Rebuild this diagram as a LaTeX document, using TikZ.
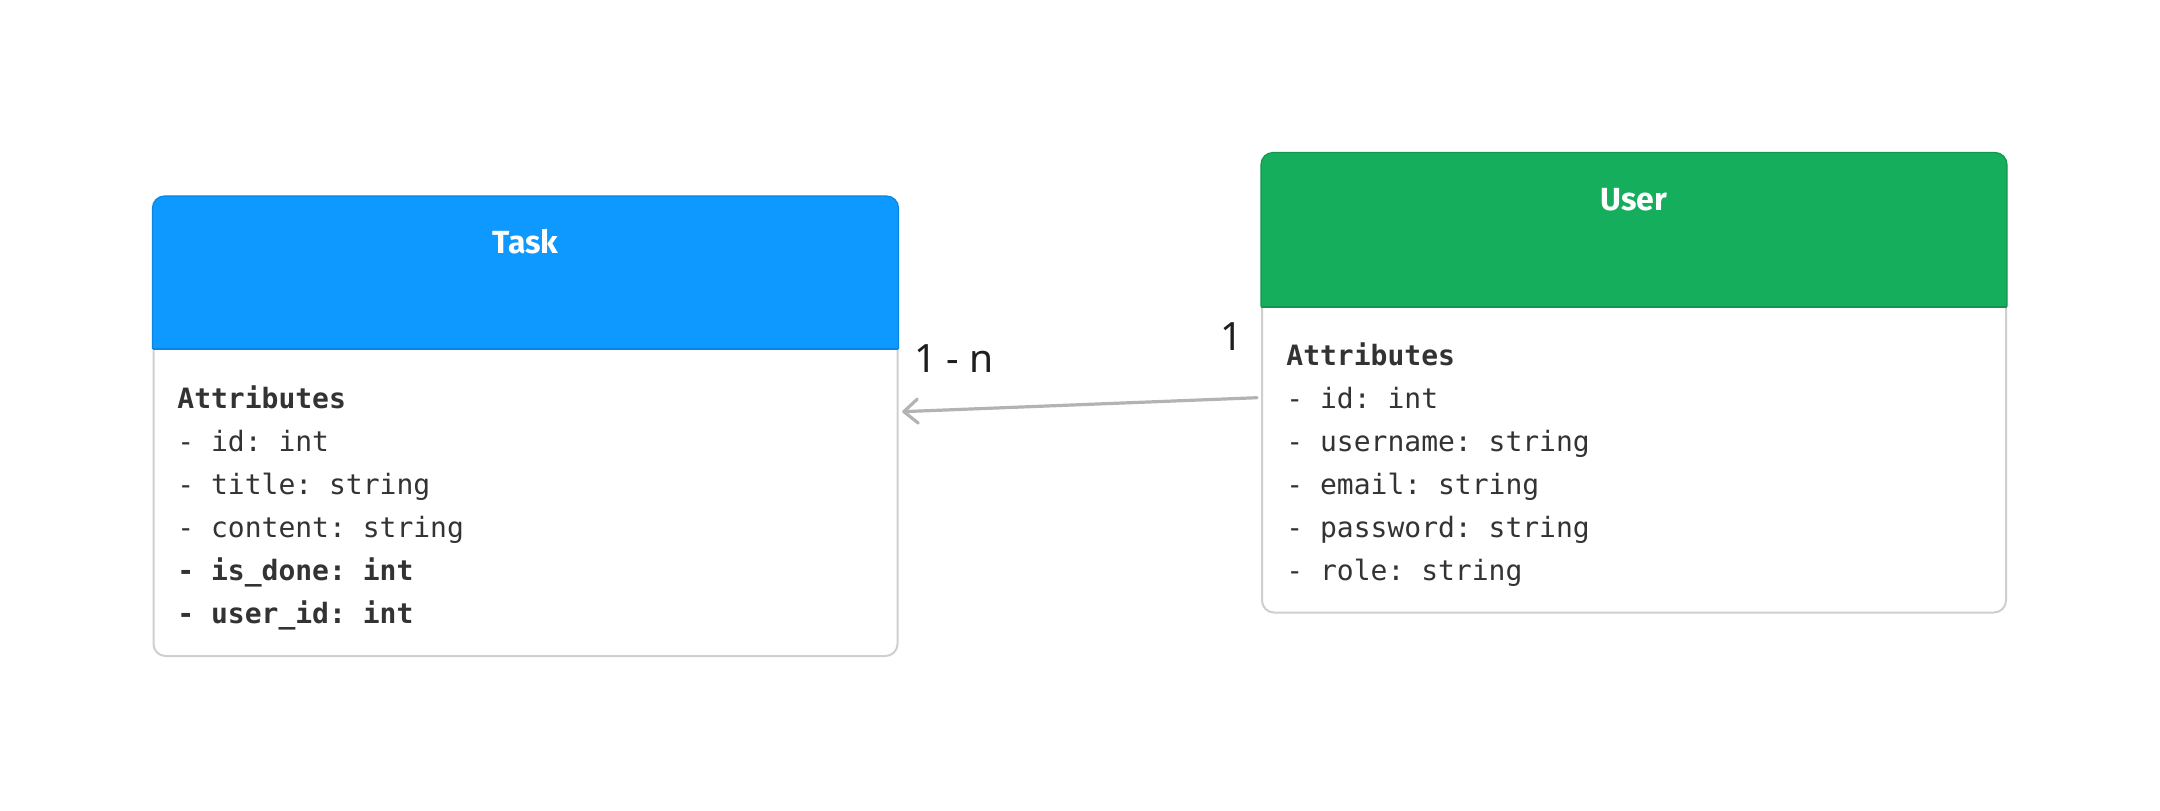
\documentclass[tikz,border=0pt]{standalone}
\usepackage{fontspec}
\setmainfont{Noto Sans}
\setmonofont{DejaVu Sans Mono}
\newfontfamily\titlefont{Fira Sans}
\usetikzlibrary{arrows.meta}
\definecolor{hblue}{HTML}{0D99FF}
\definecolor{hbluedark}{HTML}{0A86E0}
\definecolor{hgreen}{HTML}{14AE5C}
\definecolor{hgreendark}{HTML}{10964E}
\definecolor{bordergray}{HTML}{CFCFCF}
\definecolor{bodytxt}{HTML}{333333}
\definecolor{labeltxt}{HTML}{1E1E1E}
\definecolor{conngray}{HTML}{B3B3B3}
\tikzset{
  classbox/.style={draw=bordergray, line width=1pt, fill=white, rounded corners=6pt,
    minimum width=372pt, minimum height=229.5pt, inner sep=0pt},
  classtitle/.style={font=\titlefont\bfseries\fontsize{16}{18}\selectfont, text=white, inner sep=0pt},
  attrline/.style={font=\ttfamily\fontsize{14}{16}\selectfont, text=bodytxt, inner sep=0pt, anchor=base west},
  multlabel/.style={font=\fontsize{19.5}{22}\selectfont, text=labeltxt, inner sep=0pt, anchor=base west},
  conn/.style={draw=conngray, line width=1.6pt, line cap=round,
    -{Straight Barb[length=7pt,width=12pt,line width=1.6pt,round]}},
}
\begin{document}
\begin{tikzpicture}[x=0.5pt,y=-0.5pt]
\fill[white] (0,0) rectangle (2160,810);
\useasboundingbox (0,0) rectangle (2160,810);

% class boxes
\node[classbox] (task) at (525.5,426.5) {};
\node[classbox] (user) at (1634,383) {};

% headers
\begin{scope}
  \clip[rounded corners=6pt] (task.south west) rectangle (task.north east);
  \fill[hblue] (task.north west) rectangle ([yshift=-76.5pt]task.north east);
  \draw[hbluedark, line width=1pt] ([yshift=-76.5pt]task.north west) -- ([yshift=-76.5pt]task.north east);
\end{scope}
\draw[hbluedark, line width=0.6pt, rounded corners=6pt]
  ([yshift=-76.5pt]task.north west) -- (task.north west) -- (task.north east) -- ([yshift=-76.5pt]task.north east);

\begin{scope}
  \clip[rounded corners=6pt] (user.south west) rectangle (user.north east);
  \fill[hgreen] (user.north west) rectangle ([yshift=-77pt]user.north east);
  \draw[hgreendark, line width=1pt] ([yshift=-77pt]user.north west) -- ([yshift=-77pt]user.north east);
\end{scope}
\draw[hgreendark, line width=0.6pt, rounded corners=6pt]
  ([yshift=-77pt]user.north west) -- (user.north west) -- (user.north east) -- ([yshift=-77pt]user.north east);

% titles
\node[classtitle] (tasktitle) at ([yshift=-22.75pt]task.north) {Task};
\node[classtitle] (usertitle) at ([yshift=-23.5pt]user.north) {User};

% attributes of Task
\foreach \txt [count=\i] in {{\bfseries Attributes},- id: int,- title: string,- content: string,{\bfseries - is\_done: int},{\bfseries - user\_id: int}}
  \node[attrline] (tattr\i) at (177,{408+43*(\i-1)}) {\txt};

% attributes of User
\foreach \txt [count=\i] in {{\bfseries Attributes},- id: int,- username: string,- email: string,- password: string,- role: string}
  \node[attrline] (uattr\i) at (1286,{365+43*(\i-1)}) {\txt};

% connector
\draw[conn] ([xshift=-2pt,yshift=-7.35pt]user.west) -- ([xshift=1.85pt,yshift=7.4pt]task.east);

% multiplicity labels
\node[multlabel] (mtask) at (914,372.7) {1 - n};
\node[multlabel] (muser) at (1220,350) {1};
\end{tikzpicture}
\end{document}
